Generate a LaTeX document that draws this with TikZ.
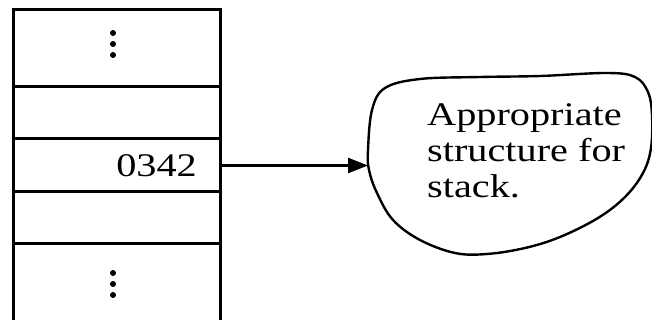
\documentclass[tikz,border=0pt]{standalone}
\usepackage{fontspec}
\setmainfont[FakeStretch=1.22]{Liberation Serif}
\usetikzlibrary{arrows.meta}
\begin{document}
\begin{tikzpicture}[x=1pt,y=-1pt,
  cellbox/.style={draw,line width=3pt,minimum width=207pt,inner sep=0pt,outer sep=0pt},
  lbl/.style={inner sep=0pt,font=\fontsize{33}{36}\selectfont},
  dotmark/.style={fill=black},
  blobline/.style={line width=2.4pt},
  conn/.style={line width=2.4pt,-{Triangle[length=20pt,width=15pt]}}]
\useasboundingbox (0,0) rectangle (652,320);
\node[cellbox,minimum height=77pt,anchor=north west] (c1) at (13,10) {};
\node[cellbox,minimum height=52pt,anchor=north west] (c2) at (c1.south west) {};
\node[cellbox,minimum height=53pt,anchor=north west] (c3) at (c2.south west) {};
\node[cellbox,minimum height=51pt,anchor=north west] (c4) at (c3.south west) {};
\node[cellbox,minimum height=90pt,anchor=north west] (c5) at (c4.south west) {};
\foreach \y in {33,44,55} \fill[dotmark] (113,\y) circle (3pt);
\foreach \y in {273,284,295} \fill[dotmark] (113,\y) circle (3pt);
\node[lbl,anchor=base east] (num) at (197,177) {0342};
\draw[blobline] plot[smooth cycle,tension=0.6] coordinates {
 (368,150) (372,110) (385,88) (420,79) (480,77) (540,76) (607,73) (635,77)
 (648,92) (652,115) (651,148) (643,173) (625,197) (598,218) (560,237)
 (525,248) (487,254) (455,253) (420,240) (393,220) (377,193) (369,170)};
\coordinate (tip) at (368,165.5);
\draw[conn] (c3.east) -- (tip);
\node[lbl,anchor=base west,align=left] (txt) at (427,197.5) {Appropriate\\structure for\\stack.};
\end{tikzpicture}
\end{document}
